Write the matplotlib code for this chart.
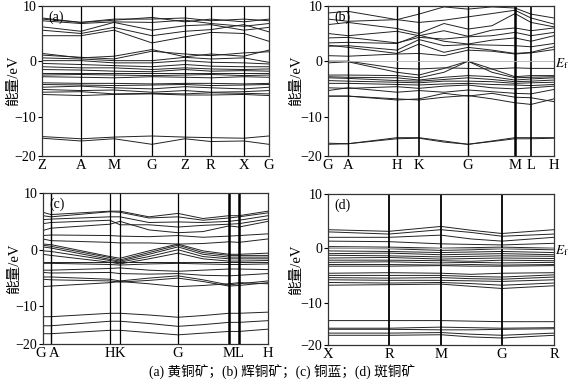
import matplotlib
matplotlib.use('Agg')
import matplotlib.pyplot as plt
from matplotlib.transforms import ScaledTranslation

plt.rcParams['font.family'] = ['Liberation Serif', 'Noto Sans CJK SC']
plt.rcParams['mathtext.fontset'] = 'stix'
plt.rcParams['font.size'] = 10

# ---- panel (a): Z A M G Z R X G ----
k_a = [0, 39, 72, 110, 143, 169, 202, 227]
lab_a = ['Z', 'A', 'M', 'G', 'Z', 'R', 'X', 'G']
tick_idx_a = [0, 1, 2, 3, 4, 5, 6, 7]
bands_a = [
    [7.8, 7.0, 7.6, 7.6, 7.8, 7.3, 7.6, 7.3],
    [7.3, 6.8, 7.1, 7.0, 7.4, 6.8, 6.3, 6.8],
    [6.2, 5.4, 7.0, 5.6, 6.4, 6.6, 5.6, 6.1],
    [5.6, 5.0, 6.1, 4.6, 5.4, 5.7, 6.6, 5.3],
    [4.6, 4.6, 5.6, 3.3, 4.4, 5.2, 5.0, 3.6],
    [7.6, 7.0, 7.4, 7.9, 7.1, 7.6, 7.1, 7.6],
    [1.4, 0.6, 0.9, 2.1, 0.8, 1.3, 0.9, 2.0],
    [1.1, 0.7, 0.4, 1.8, 1.3, 1.0, 1.5, 1.7],
    [0.6, 0.4, 0.1, 0.1, 0.7, 0.4, 0.6, -0.2],
    [0.1, 0.1, -0.3, -0.3, 0.1, -0.2, -0.3, -0.5],
    [-0.4, -0.6, -0.8, -1.0, -0.6, -0.9, -1.0, -1.0],
    [-1.0, -1.2, -1.2, -1.5, -1.2, -1.4, -1.5, -1.4],
    [-1.5, -1.6, -1.8, -1.9, -1.5, -1.8, -1.7, -1.8],
    [-2.2, -2.2, -2.2, -2.2, -2.2, -2.2, -2.2, -2.2],
    [-2.5, -2.4, -2.5, -2.6, -2.5, -2.4, -2.6, -2.5],
    [-2.8, -2.9, -3.0, -2.8, -2.9, -3.0, -2.8, -2.9],
    [-3.9, -4.0, -4.0, -4.1, -4.0, -4.0, -4.1, -4.0],
    [-4.2, -4.3, -4.4, -4.3, -4.2, -4.4, -4.3, -4.2],
    [-4.7, -4.5, -4.8, -5.0, -4.6, -4.8, -5.0, -4.7],
    [-5.1, -5.3, -5.2, -5.6, -5.3, -5.6, -5.5, -5.3],
    [-5.6, -5.5, -5.9, -5.8, -5.9, -5.7, -5.8, -5.9],
    [-6.0, -6.2, -6.0, -5.9, -6.1, -6.1, -6.0, -6.2],
    [-13.6, -14.0, -13.7, -13.5, -13.7, -13.8, -13.9, -13.5],
    [-13.9, -14.4, -14.0, -15.0, -14.0, -14.5, -14.4, -15.0],
]

# ---- panel (b): G A H K G M L H ----
k_b = [0, 20, 69, 91, 116, 140, 164, 187, 203, 226]
lab_b = ['G', 'A', 'H', 'K', 'G', 'M', 'L', 'H']
tick_idx_b = [0, 1, 2, 3, 5, 7, 8, 9]
bands_b = [
    [8.7, 9.0, 7.5, 8.5, 9.8, 9.4, 9.8, 9.6, 8.5, 7.8],
    [7.6, 7.2, 7.5, 7.0, 7.4, 8.0, 8.6, 9.2, 7.8, 6.7],
    [6.6, 7.0, 5.9, 5.0, 6.8, 5.8, 6.4, 8.6, 7.0, 6.2],
    [5.0, 4.6, 5.4, 4.6, 5.5, 4.5, 5.6, 6.0, 5.5, 6.0],
    [4.2, 4.3, 3.3, 4.3, 4.0, 4.4, 4.6, 5.2, 4.6, 5.2],
    [3.3, 3.4, 3.2, 4.7, 3.6, 3.1, 3.8, 4.2, 3.6, 4.6],
    [2.7, 2.8, 2.0, 3.9, 2.8, 3.0, 2.9, 2.8, 2.6, 3.2],
    [2.9, 2.5, 1.4, 3.1, 1.6, 2.5, 2.0, 1.4, 1.6, 2.6],
    [1.0, 0.9, 1.3, 1.4, 1.0, 2.0, 1.8, 1.3, 1.5, 2.1],
    [0.0, 0.0, -1.3, -1.4, -1.2, -1.3, -1.4, -1.2, -1.3, -1.3],
    [-0.3, -0.1, -2.0, -2.5, -1.3, 0.0, -1.4, -2.8, -2.6, -2.6],
    [-2.5, -2.5, -2.6, -3.0, -2.0, 0.0, -2.0, -3.0, -2.9, -2.8],
    [-2.8, -2.9, -3.0, -3.4, -2.9, -2.6, -2.8, -3.4, -3.2, -3.0],
    [-3.0, -3.1, -3.5, -3.6, -3.3, -3.0, -3.3, -3.7, -3.6, -3.4],
    [-3.5, -3.6, -3.8, -3.9, -3.6, -3.6, -3.7, -4.0, -3.9, -3.8],
    [-4.0, -4.0, -4.2, -4.3, -4.1, -4.0, -4.2, -4.3, -4.4, -4.2],
    [-4.8, -4.9, -4.6, -4.9, -4.5, -4.3, -4.8, -5.0, -4.8, -4.5],
    [-5.3, -4.8, -5.6, -5.3, -5.6, -5.2, -5.5, -5.8, -5.9, -5.1],
    [-6.3, -6.3, -6.8, -7.0, -6.5, -6.2, -6.8, -7.5, -7.8, -6.8],
    [-6.3, -6.3, -7.0, -6.8, -5.8, -6.3, -5.8, -6.5, -6.6, -7.3],
    [-14.8, -14.9, -13.8, -13.8, -14.4, -15.0, -14.4, -13.8, -13.8, -13.8],
    [-15.0, -14.9, -14.0, -13.9, -14.6, -15.0, -14.5, -14.0, -14.0, -13.9],
]

# ---- panel (c): G A H K G M L H ----
k_c = [0, 8, 67, 77, 106, 135, 160, 186, 196, 225]
lab_c = ['G', 'A', 'H', 'K', 'G', 'M', 'L', 'H']
tick_idx_c = [0, 1, 2, 3, 5, 7, 8, 9]
bands_c = [
    [6.6, 6.2, 6.8, 6.8, 5.8, 6.4, 5.5, 6.0, 6.0, 6.8],
    [6.0, 5.8, 6.7, 6.6, 5.6, 5.8, 5.2, 5.6, 5.8, 6.5],
    [5.3, 5.4, 5.8, 5.8, 4.8, 4.9, 4.8, 5.0, 5.2, 6.0],
    [4.6, 4.8, 5.2, 4.4, 4.4, 4.0, 4.3, 4.5, 4.6, 5.4],
    [3.4, 3.8, 4.5, 5.0, 3.5, 3.0, 3.2, 4.2, 4.0, 5.0],
    [2.5, 2.6, 2.5, 2.4, 2.3, 2.5, 2.2, 2.4, 2.5, 2.8],
    [1.9, 1.6, 1.3, 1.2, 1.2, 1.0, 1.1, 1.4, 1.3, 1.9],
    [1.0, 0.9, -1.2, -1.5, -0.2, 1.0, -0.2, -0.8, -0.8, -0.6],
    [0.8, 0.6, -1.4, -1.8, -0.5, 0.8, -0.5, -1.0, -1.0, -1.0],
    [0.5, 0.3, -1.7, -2.0, -0.8, 0.5, -0.8, -1.3, -1.3, -1.3],
    [-0.2, -0.3, -1.9, -2.2, -1.2, 0.0, -1.2, -1.6, -1.6, -1.6],
    [-0.8, -1.0, -2.2, -2.5, -1.6, -0.6, -1.6, -2.0, -2.0, -1.9],
    [-2.2, -2.2, -2.2, -2.2, -2.2, -2.2, -2.2, -2.2, -2.2, -2.2],
    [-2.4, -2.4, -2.6, -2.7, -2.5, -2.4, -2.5, -2.6, -2.6, -2.5],
    [-3.6, -3.6, -3.3, -3.2, -3.6, -3.8, -3.6, -3.4, -3.4, -3.5],
    [-4.0, -4.1, -4.0, -4.2, -4.3, -4.2, -4.5, -4.6, -4.5, -4.2],
    [-4.8, -4.8, -5.2, -5.5, -5.0, -4.6, -5.3, -6.2, -6.0, -5.5],
    [-5.2, -5.3, -5.5, -5.7, -5.4, -5.0, -5.6, -6.4, -6.3, -5.8],
    [-6.5, -6.4, -5.8, -5.6, -6.0, -6.5, -6.3, -6.0, -5.8, -6.0],
    [-11.8, -11.8, -11.2, -11.2, -11.5, -11.9, -11.6, -11.2, -11.2, -11.0],
    [-13.4, -13.4, -12.6, -12.6, -13.0, -13.5, -13.2, -12.8, -12.8, -12.5],
    [-14.8, -14.8, -14.2, -14.2, -14.6, -15.0, -14.7, -14.4, -14.4, -14.0],
]

# ---- panel (d): X R M G R ----
k_d = [0, 61, 113, 143, 174, 226]
lab_d = ['X', 'R', 'M', 'G', 'R']
tick_idx_d = [0, 1, 2, 4, 5]
bands_d = [
    [3.4, 3.1, 4.0, 3.3, 2.7, 3.4],
    [3.0, 2.6, 3.4, 2.9, 2.2, 2.6],
    [2.0, 2.0, 2.4, 1.7, 1.3, 2.0],
    [1.3, 1.2, 0.8, 0.7, 0.6, 0.9],
    [0.3, 0.2, 0.0, 0.1, 0.2, 0.0],
    [0.0, -0.1, -0.4, -0.3, -0.1, -0.3],
    [-0.5, -0.6, -0.8, -0.7, -0.6, -0.8],
    [-1.0, -0.9, -1.2, -1.1, -1.0, -1.2],
    [-1.3, -1.4, -1.6, -1.5, -1.4, -1.5],
    [-1.8, -1.7, -2.0, -1.9, -1.8, -1.9],
    [-2.2, -2.2, -2.3, -2.4, -2.2, -2.3],
    [-2.6, -2.5, -2.7, -2.6, -2.7, -2.6],
    [-3.0, -3.0, -3.1, -3.0, -3.1, -3.0],
    [-3.3, -3.3, -3.2, -3.3, -3.3, -3.2],
    [-4.6, -4.5, -4.6, -4.8, -4.6, -4.5],
    [-5.0, -5.0, -5.0, -5.2, -5.3, -4.9],
    [-5.4, -5.5, -5.4, -5.6, -5.7, -5.3],
    [-5.8, -5.9, -5.9, -6.0, -6.1, -5.8],
    [-6.3, -6.4, -6.3, -6.5, -6.8, -6.4],
    [-6.8, -6.7, -6.6, -7.0, -7.4, -6.9],
    [-13.3, -13.3, -13.3, -13.4, -13.5, -13.5],
    [-14.7, -14.7, -14.5, -14.6, -14.7, -14.6],
    [-14.9, -14.9, -15.0, -15.0, -14.9, -14.8],
    [-15.6, -15.6, -15.5, -15.8, -16.0, -15.6],
    [-16.0, -16.0, -15.9, -16.3, -16.5, -16.0],
]

caption = '(a) 黄铜矿；(b) 辉铜矿；(c) 铜蓝；(d) 斑铜矿'

fig = plt.figure(figsize=(5.7, 3.86), dpi=100)

panels = [
    # rect, k, labels, tick index, bands, tag, bottom, ef, vline widths, ylabel x
    ([0.0737, 0.596, 0.398, 0.389], k_a, lab_a, tick_idx_a, bands_a, '(a)', -17.1, False,
     [0.9] * 8, -0.095),
    ([0.5754, 0.596, 0.3965, 0.389], k_b, lab_b, tick_idx_b, bands_b, '(b)', -17.1, True,
     [1.0, 1.0, 1.0, 1.2, 1.0, 1.8, 1.2, 1.0], -0.11),
    ([0.0754, 0.109, 0.3947, 0.391], k_c, lab_c, tick_idx_c, bands_c, '(c)', -16.6, False,
     [1.0, 1.0, 0.9, 0.9, 0.9, 1.8, 1.8, 1.0], -0.095),
    ([0.5754, 0.106, 0.3965, 0.392], k_d, lab_d, tick_idx_d, bands_d, '(d)', -17.8, True,
     [1.0, 1.3, 1.3, 1.3, 1.0], -0.11),
]

for rect, k, labs, tidx, bands, tag, ybot, ef, vlw, ylx in panels:
    ax = fig.add_axes(rect)
    for b in bands:
        ax.plot(k, b, color='#222222', lw=0.7)
    ticks = [k[i] for i in tidx]
    for x, w in zip(ticks[1:-1], vlw[1:-1]):
        ax.axvline(x, color='black', lw=w)
    if ef:
        ax.axhline(0, color='#b0b0b0', lw=0.6)
        ax.text(1.006, -0.4, r'$E_\mathrm{f}$', transform=ax.get_yaxis_transform(),
                ha='left', va='center', fontsize=9.5)
    ax.set_xlim(k[0], k[-1])
    ax.set_ylim(ybot, 10)
    ax.set_xticks(ticks)
    ax.set_xticklabels(labs)
    ax.set_yticks([10, 0, -10, ybot])
    ax.set_yticklabels(['10', '0', '−10', '−20'])
    ax.tick_params(axis='x', length=0, pad=2, labelsize=10.5)
    ax.tick_params(axis='y', length=3, width=0.8, pad=1, labelsize=10, direction='out')
    for s in ax.spines.values():
        s.set_color('#333333')
        s.set_linewidth(0.9)
    ax.set_ylabel('能量/eV', fontsize=10.5)
    ax.yaxis.set_label_coords(ylx, 0.5)
    ax.text(0.03, 0.97, tag, transform=ax.transAxes, ha='left', va='top', fontsize=10)
    if tag == '(c)':
        xl = ax.get_xticklabels()
        xl[0].set_transform(xl[0].get_transform() + ScaledTranslation(-2 / 72, 0, fig.dpi_scale_trans))
        xl[1].set_transform(xl[1].get_transform() + ScaledTranslation(2 / 72, 0, fig.dpi_scale_trans))

fig.text(0.495, 0.018, caption, ha='center', va='bottom', fontsize=9.8)

fig.savefig('out.png', dpi=100)
